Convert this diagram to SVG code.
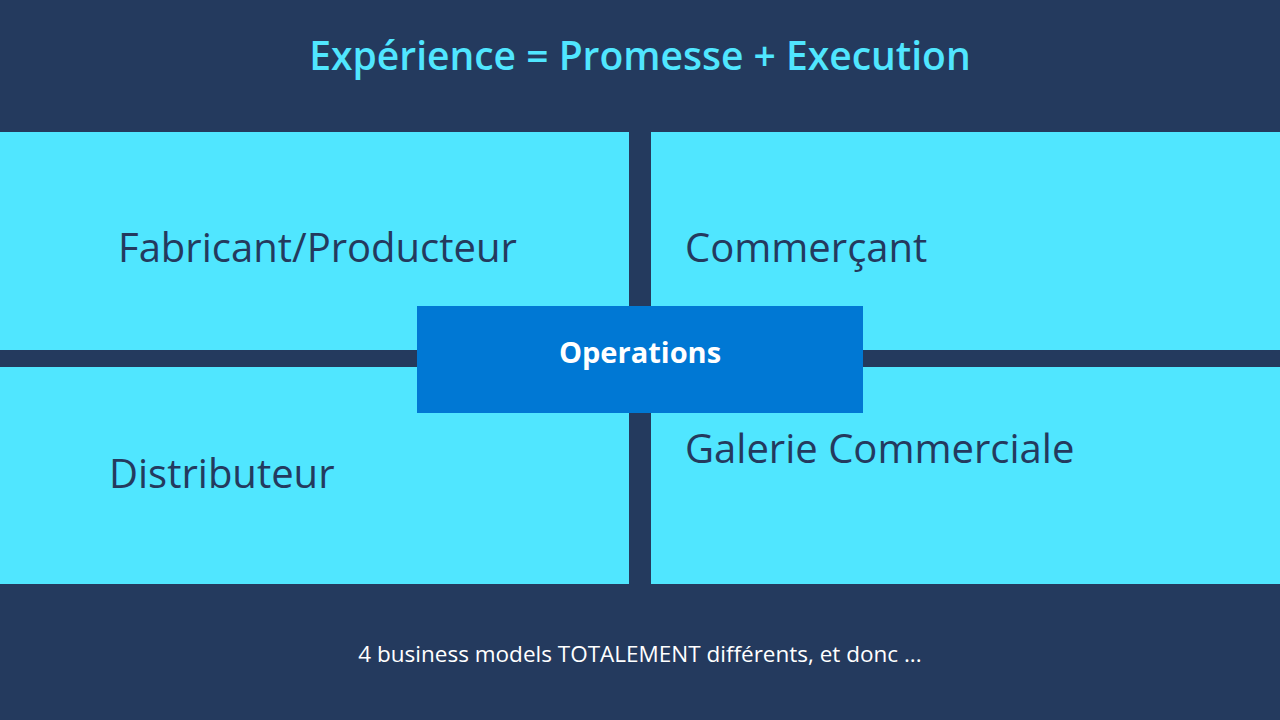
<svg xmlns="http://www.w3.org/2000/svg" width="1280" height="720" viewBox="0 0 1280 720">
<style>
.q{fill:#50e6ff}
.ql{font-family:"Open Sans","Noto Sans",sans-serif;font-size:40px;fill:#243a5e}
</style>
<rect width="1280" height="720" fill="#243a5e"/>
<text x="640" y="70" text-anchor="middle" font-family="Open Sans, Noto Sans, sans-serif" font-weight="600" font-size="39" fill="#50e6ff">Expérience = Promesse + Execution</text>
<g id="fabricant"><rect class="q" x="0" y="132" width="629" height="218"/><text class="ql" x="118" y="262">Fabricant/Producteur</text></g>
<g id="commercant"><rect class="q" x="651" y="132" width="629" height="218"/><text class="ql" x="685" y="262">Commerçant</text></g>
<g id="distributeur"><rect class="q" x="0" y="367" width="629" height="217"/><text class="ql" x="109" y="488">Distributeur</text></g>
<g id="galerie"><rect class="q" x="651" y="367" width="629" height="217"/><text class="ql" x="685" y="463">Galerie Commerciale</text></g>
<g id="operations"><rect x="417" y="306" width="446" height="107" fill="#0078d4"/><text x="640" y="363" text-anchor="middle" font-family="Open Sans, Noto Sans, sans-serif" font-weight="bold" font-size="29" fill="#ffffff">Operations</text></g>
<g id="connectors"/>
<text x="640" y="662" text-anchor="middle" font-family="Open Sans, Noto Sans, sans-serif" font-size="22.5" fill="#ffffff">4 business models TOTALEMENT différents, et donc ...</text>
</svg>
